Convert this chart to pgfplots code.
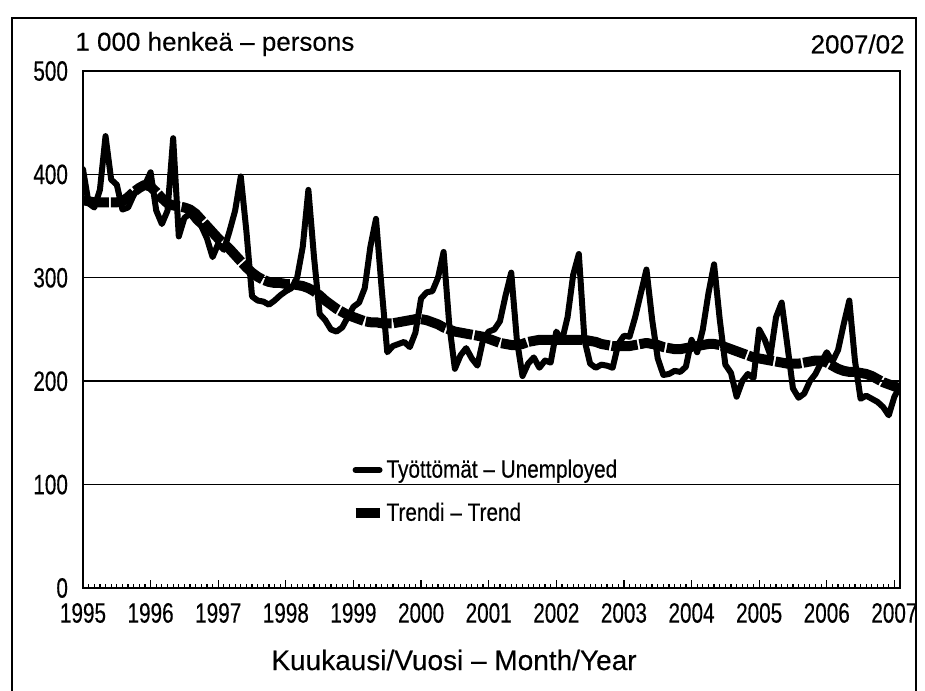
\documentclass[border=0pt]{standalone}
\usepackage{fontspec}
\setmainfont{Liberation Sans}[FakeBold=0.3]
\newfontfamily\narrowfont{Liberation Sans}[FakeStretch=0.74, FakeBold=0.3]
\newfontfamily\legfont{Liberation Sans}[FakeStretch=0.83, FakeBold=0.3]
\usepackage{pgfplots}
\pgfplotsset{compat=1.18}
\usepackage{pgfplotstable}

% month index: 0 = 1995/01 ... 145 = 2007/02
\pgfplotstableread{
m v
0 405
1 372
2 368
3 385
4 437
5 395
6 390
7 366
8 368
9 380
10 388
11 390
12 402
13 365
14 352
15 365
16 435
17 340
18 358
19 362
20 355
21 350
22 338
23 320
24 333
25 327
26 345
27 365
28 398
29 345
30 282
31 278
32 277
33 274
34 278
35 283
36 287
37 290
38 300
39 330
40 385
41 320
42 265
43 259
44 250
45 248
46 252
47 262
48 272
49 276
50 290
51 330
52 357
53 290
54 228
55 234
56 236
57 238
58 233
59 247
60 280
61 286
62 287
63 300
64 325
65 255
66 212
67 225
68 232
69 222
70 215
71 240
72 248
73 250
74 258
75 283
76 305
77 240
78 205
79 217
80 223
81 213
82 220
83 218
84 248
85 239
86 262
87 303
88 323
89 240
90 217
91 213
92 216
93 215
94 213
95 236
96 244
97 243
98 262
99 285
100 308
101 260
102 222
103 206
104 207
105 210
106 209
107 214
108 240
109 228
110 250
111 285
112 313
113 260
114 216
115 208
116 185
117 200
118 207
119 203
120 250
121 240
122 225
123 262
124 276
125 235
126 193
127 184
128 188
129 200
130 207
131 218
132 228
133 219
134 230
135 255
136 278
137 220
138 183
139 186
140 183
141 180
142 175
143 167
144 185
145 195
}\unemp

\pgfplotstableread{
m v
0 375
1 374
2 373
3 373
4 373
5 373
6 373
7 374
8 378
9 383
10 387
11 390
12 388
13 383
14 377
15 372
16 370
17 369
18 368
19 366
20 362
21 356
22 350
23 344
24 338
25 333
26 328
27 322
28 316
29 310
30 305
31 301
32 298
33 296
34 295
35 295
36 294
37 294
38 293
39 292
40 290
41 287
42 283
43 278
44 274
45 270
46 267
47 264
48 262
49 260
50 258
51 257
52 257
53 256
54 256
55 256
56 257
57 258
58 259
59 260
60 260
61 259
62 257
63 255
64 252
65 250
66 248
67 247
68 246
69 245
70 244
71 243
72 241
73 239
74 237
75 236
76 235
77 235
78 236
79 238
80 239
81 240
82 240
83 240
84 240
85 240
86 240
87 240
88 240
89 240
90 239
91 238
92 236
93 235
94 234
95 234
96 234
97 234
98 235
99 236
100 237
101 236
102 235
103 233
104 232
105 231
106 231
107 232
108 233
109 234
110 235
111 236
112 236
113 235
114 233
115 231
116 229
117 227
118 225
119 223
120 222
121 221
122 220
123 219
124 218
125 217
126 217
127 217
128 218
129 219
130 220
131 220
132 218
133 215
134 212
135 210
136 209
137 209
138 208
139 207
140 205
141 202
142 199
143 197
144 195
145 193
}\trend

\begin{document}
\begin{tikzpicture}
\useasboundingbox (0,0) rectangle (462.5pt,345pt);
\draw[line width=1.2pt] (6pt,-2pt) -- (6pt,336pt) -- (458pt,336pt) -- (458pt,-2pt);
\begin{axis}[
  at={(41.5pt,51pt)}, anchor=south west,
  width=408.5pt, height=258.5pt, scale only axis,
  xmin=0, xmax=145, ymin=0, ymax=500,
  xtick={0,12,...,144},
  xticklabels={1995,1996,1997,1998,1999,2000,2001,2002,2003,2004,2005,2006,2007},
  minor x tick num=11,
  xtick pos=bottom, xtick align=inside,
  major tick length=4pt, minor tick length=2pt,
  xtick style={line width=0.6pt, black},
  ytick={0,100,...,500},
  ytick style={draw=none},
  ymajorgrids, grid style={black, line width=0.7pt},
  axis line style={line width=1pt, black},
  /pgf/number format/assume math mode=true,
  tick label style={font=\narrowfont\fontsize{14}{16}\selectfont},
  yticklabel style={xshift=-4pt},
  xticklabel style={yshift=-4pt},
  legend style={draw=none, fill=none, at={(0.327,0.257)}, anchor=north west,
    font=\legfont\fontsize{12.5}{14}\selectfont, row sep=7pt, inner sep=0pt,
    nodes={inner xsep=1pt}},
  legend cell align=left,
  legend image code/.code={\draw[#1] (0pt,0pt) -- (12pt,0pt);},
]
\addplot[black, line width=3pt, line join=round, line cap=round] table[x=m, y=v] {\unemp};
\addlegendentry{Työttömät – Unemployed}
\addplot[black, line width=5pt, line join=round, line cap=butt, dash pattern=on 13pt off 1pt] table[x=m, y=v] {\trend};
\addlegendentry{Trendi – Trend}
\end{axis}
\node[anchor=west, font=\fontsize{13}{15}\selectfont, inner sep=0pt] at (37.5pt,323pt) {1 000 henkeä – persons};
\node[anchor=east, font=\fontsize{13}{15}\selectfont, inner sep=0pt] at (452.5pt,323pt) {2007/02};
\node[font=\fontsize{14}{16}\selectfont, inner sep=0pt] at (227pt,15pt) {Kuukausi/Vuosi – Month/Year};
\end{tikzpicture}
\end{document}
